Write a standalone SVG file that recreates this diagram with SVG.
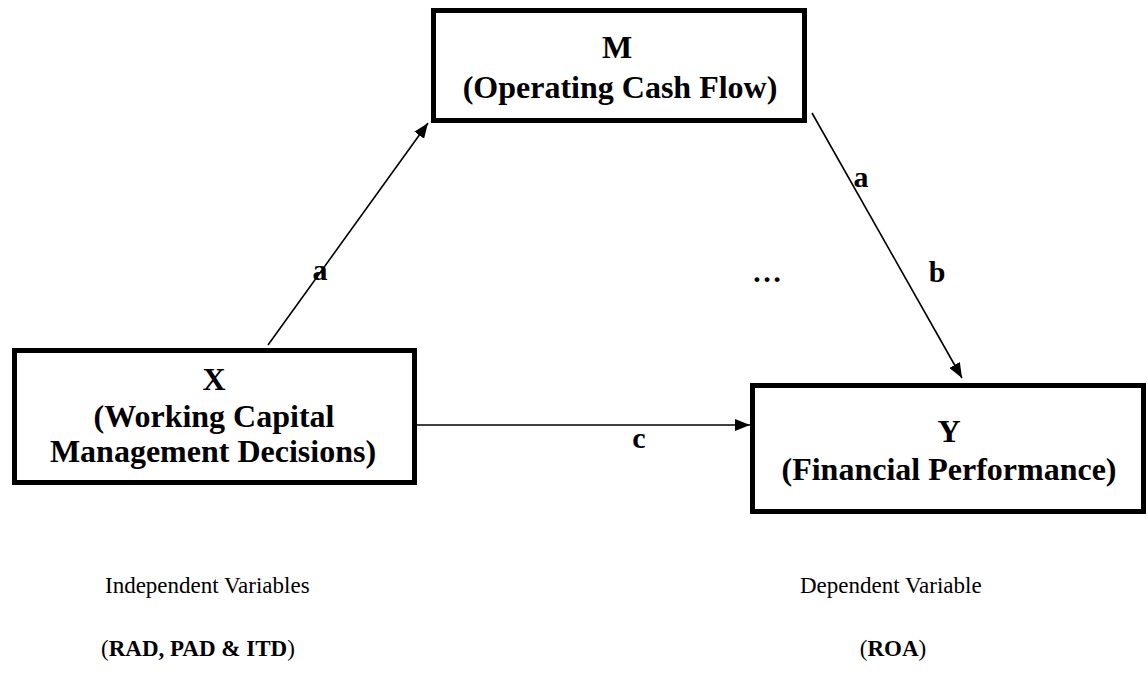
<svg xmlns="http://www.w3.org/2000/svg" width="1148" height="675" viewBox="0 0 1148 675">
<style>
.box{fill:#fff;stroke:#000;stroke-width:5}
.t{font-family:"Liberation Serif","Times New Roman",serif;font-weight:bold;font-size:32px;text-anchor:middle;fill:#000}
.lbl{font-family:"Liberation Serif","Times New Roman",serif;font-weight:bold;font-size:30px;text-anchor:middle;fill:#000}
.n{font-family:"Liberation Serif","Times New Roman",serif;font-size:23px;fill:#000}
.e{stroke:#000;stroke-width:1.6;fill:none;marker-end:url(#ah)}
</style>
<defs>
<marker id="ah" viewBox="0 0 15 12" refX="15" refY="6" markerWidth="15" markerHeight="12" markerUnits="userSpaceOnUse" orient="auto">
<path d="M0,0 L15,6 L0,12 Z" fill="#000"/>
</marker>
</defs>
<rect width="1148" height="675" fill="#fff"/>
<g id="connectors">
<line class="e" x1="268" y1="345" x2="428" y2="123"/>
<line class="e" x1="812" y1="113" x2="962" y2="378"/>
<line class="e" x1="416" y1="425" x2="750" y2="425"/>
</g>
<g id="node-M">
<rect class="box" x="433.5" y="10.5" width="371" height="110"/>
<text class="t" x="617" y="58">M</text>
<text class="t" x="620" y="98">(Operating Cash Flow)</text>
</g>
<g id="node-X">
<rect class="box" x="14.5" y="350.5" width="400" height="132"/>
<text class="t" x="214" y="390">X</text>
<text class="t" x="214" y="427">(Working Capital</text>
<text class="t" x="213" y="462">Management Decisions)</text>
</g>
<g id="node-Y">
<rect class="box" x="752.5" y="385.5" width="391" height="126"/>
<text class="t" x="949" y="442">Y</text>
<text class="t" x="949" y="480">(Financial Performance)</text>
</g>
<g id="labels">
<text class="lbl" x="320" y="280">a</text>
<text class="lbl" x="861" y="187">a</text>
<text class="lbl" x="937" y="282">b</text>
<text class="lbl" x="767" y="282">…</text>
<text class="lbl" x="639" y="448">c</text>
</g>
<g id="notes">
<text class="n" x="105" y="593">Independent Variables</text>
<text class="n" x="101" y="656">(<tspan font-weight="bold">RAD, PAD &amp; ITD</tspan>)</text>
<text class="n" x="800" y="593">Dependent Variable</text>
<text class="n" x="893" y="656" text-anchor="middle">(<tspan font-weight="bold">ROA</tspan>)</text>
</g>
</svg>
